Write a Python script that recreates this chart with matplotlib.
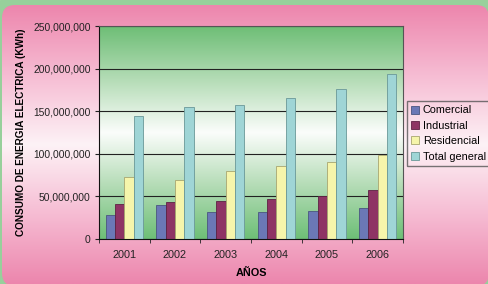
import numpy as np
import matplotlib
matplotlib.use("Agg")
import matplotlib.pyplot as plt
from matplotlib.patches import FancyBboxPatch
from matplotlib.colors import LinearSegmentedColormap
from matplotlib.ticker import FuncFormatter

plt.rcParams['font.family'] = ['Liberation Sans', 'DejaVu Sans']

# Datos
years = ["2001", "2002", "2003", "2004", "2005", "2006"]
series = ["Comercial", "Industrial", "Residencial", "Total general"]
comercial = [28.5e6, 39.5e6, 31.7e6, 31.7e6, 32.9e6, 36.7e6]
industrial = [40.7e6, 44.0e6, 44.6e6, 47.0e6, 50.8e6, 57.5e6]
residencial = [73.0e6, 69.6e6, 79.4e6, 85.7e6, 90.4e6, 99.0e6]
total = [144.0e6, 154.5e6, 157.0e6, 165.0e6, 175.7e6, 193.3e6]

colors = ["#6b78b6", "#8e3464", "#f6f5ab", "#9fd5d6"]
edges = ["#4a5680", "#5e2244", "#a8a670", "#6a9898"]

fig = plt.figure(figsize=(4.89, 2.84), dpi=100)

# fondo: borde verde + panel rosa redondeado con degradado
bg = fig.add_axes([0, 0, 1, 1])
bg.set_xlim(0, 489)
bg.set_ylim(284, 0)
bg.axis("off")
bg.add_patch(plt.Rectangle((0, 0), 489, 284, color="#97d09b", zorder=0))
pink = LinearSegmentedColormap.from_list("pk", ["#ed86ad", "#f6bcd3", "#fdf2f6", "#f6bcd3", "#ec86ad"])
grad = np.linspace(0, 1, 256).reshape(-1, 1)
im = bg.imshow(grad, cmap=pink, extent=[2, 489, 284, 5], aspect="auto", zorder=1)
panel = FancyBboxPatch((2, 5), 487, 281, boxstyle="round,pad=0,rounding_size=13",
                       facecolor="none", edgecolor="none", transform=bg.transData)
bg.add_patch(panel)
im.set_clip_path(panel)

ax = fig.add_axes([99 / 489, 1 - 239 / 284, 304 / 489, 213 / 284])
green = LinearSegmentedColormap.from_list("gr", ["#6ebe76", "#b4dcb6", "#fbfdfb", "#b4dcb6", "#6ebf77"])
ax.imshow(grad, cmap=green, extent=[-0.5, 5.5, 0, 250e6], aspect="auto", zorder=-1)

x = np.arange(len(years))
w = 0.183
data = [comercial, industrial, residencial, total]
for i, (vals, name) in enumerate(zip(data, series)):
    ax.bar(x + (i - 1.5) * w, vals, w, color=colors[i], edgecolor=edges[i],
           linewidth=0.6, label=name, zorder=2)

ax.set_xlim(-0.5, 5.5)
ax.set_ylim(0, 250e6)
ax.set_yticks(np.arange(0, 250e6 + 1, 50e6))
ax.yaxis.set_major_formatter(FuncFormatter(lambda v, p: f"{int(v):,}"))
ax.yaxis.grid(True, color="#222222", linewidth=0.8)
ax.set_axisbelow(True)

ax.set_xticks(x)
ax.set_xticklabels(years)
ax.set_xticks(np.arange(-0.5, 6, 1), minor=True)
ax.tick_params(axis="x", which="major", length=0, pad=8, labelsize=7.8, colors="#222222")
ax.tick_params(axis="x", which="minor", length=3, color="#222222")
ax.tick_params(axis="y", length=3, labelsize=7.4, colors="#222222", pad=3)

for s in ["left", "bottom"]:
    ax.spines[s].set_color("#111111")
for s in ["top", "right"]:
    ax.spines[s].set_color("#555555")

ax.set_xlabel("AÑOS", fontsize=7.8, fontweight="bold", labelpad=6)
ax.set_ylabel("CONSUMO DE ENERGIA ELECTRICA (KWh)", fontsize=7.2, fontweight="bold", labelpad=5)

fig.legend(loc="upper left", bbox_to_anchor=(407 / 489, 1 - 101 / 284), fontsize=7.8,
           frameon=True, fancybox=False, edgecolor="#555555", facecolor="none",
           handlelength=0.75, handleheight=0.75, handletextpad=0.3, labelspacing=0.5,
           borderpad=0.4, borderaxespad=0)

fig.savefig("out.png", dpi=100)
